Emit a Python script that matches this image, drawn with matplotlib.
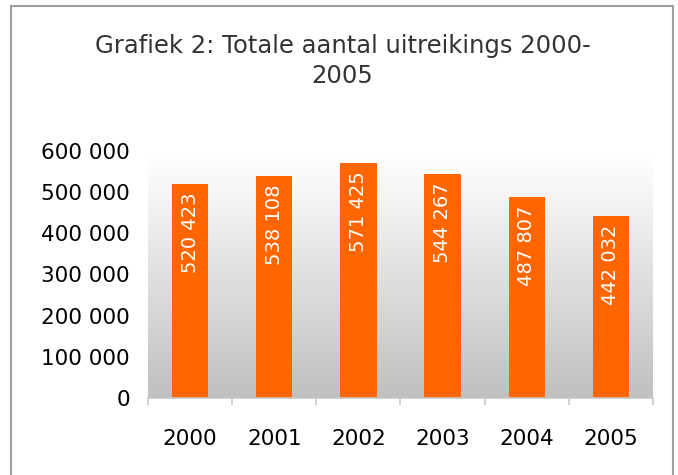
import matplotlib
matplotlib.use("Agg")
import matplotlib.pyplot as plt
import numpy as np
from matplotlib.patches import Rectangle

years = ["2000", "2001", "2002", "2003", "2004", "2005"]
uitreikings = [520423, 538108, 571425, 544267, 487807, 442032]
y_ticks = [0, 100000, 200000, 300000, 400000, 500000, 600000]
title = "Grafiek 2: Totale aantal uitreikings 2000-\n2005"


def fmt(v):
    # thousands separated by a space
    return f"{v:,}".replace(",", " ")


fig = plt.figure(figsize=(6.78, 4.75), dpi=100)
fig.patch.set_facecolor("white")

# grey frame round the chart
fig.patches.append(Rectangle((11 / 678, -0.05), 662 / 678, 1 - 6 / 475 + 0.05,
                             transform=fig.transFigure, fill=False,
                             edgecolor="#a0a0a0", linewidth=1.5))

fig.text(0.505, 1 - 61 / 475, title, ha="center", va="center", fontsize=17.5,
         color="#333333", linespacing=1.3)

ax = fig.add_axes([148 / 678, 1 - 398 / 475, 505 / 678, 247 / 475])
x = np.arange(len(years))
ax.set_xlim(-0.5, len(years) - 0.5)
ax.set_ylim(0, 600000)

# vertical gradient background: white at top, grey at bottom
grad = np.linspace(1, 0, 256).reshape(-1, 1)
ax.imshow(grad, cmap=matplotlib.colors.LinearSegmentedColormap.from_list(
    "bg", ["#c0c0c0", "#ffffff"]), aspect="auto",
    extent=(-0.5, len(years) - 0.5, 0, 590000), origin="upper", zorder=0,
    vmin=0, vmax=1)
ax.set_facecolor("white")

bars = ax.bar(x, uitreikings, width=0.43, color="#ff6600", zorder=2)
for b, v in zip(bars, uitreikings):
    ax.annotate(fmt(v), (b.get_x() + b.get_width() / 2, v), xytext=(0, -6),
                textcoords="offset points", rotation=90, ha="center", va="top",
                color="white", fontsize=14, zorder=3)

for s in ["top", "right", "left"]:
    ax.spines[s].set_visible(False)
ax.spines["bottom"].set_color("#c8c8c8")
ax.spines["bottom"].set_linewidth(1.2)

ax.set_xticks(x)
ax.set_xticklabels(years, fontsize=15.5)
ax.tick_params(axis="x", length=0, pad=22)
ax.set_xticks(np.arange(-0.5, len(years)), minor=True)
ax.tick_params(axis="x", which="minor", length=5, color="#c8c8c8", width=1.2)

ax.set_yticks(y_ticks)
ax.set_yticklabels([fmt(v) for v in y_ticks], fontsize=15.5)
ax.tick_params(axis="y", length=0, pad=13)

fig.savefig("out.png", dpi=100)
